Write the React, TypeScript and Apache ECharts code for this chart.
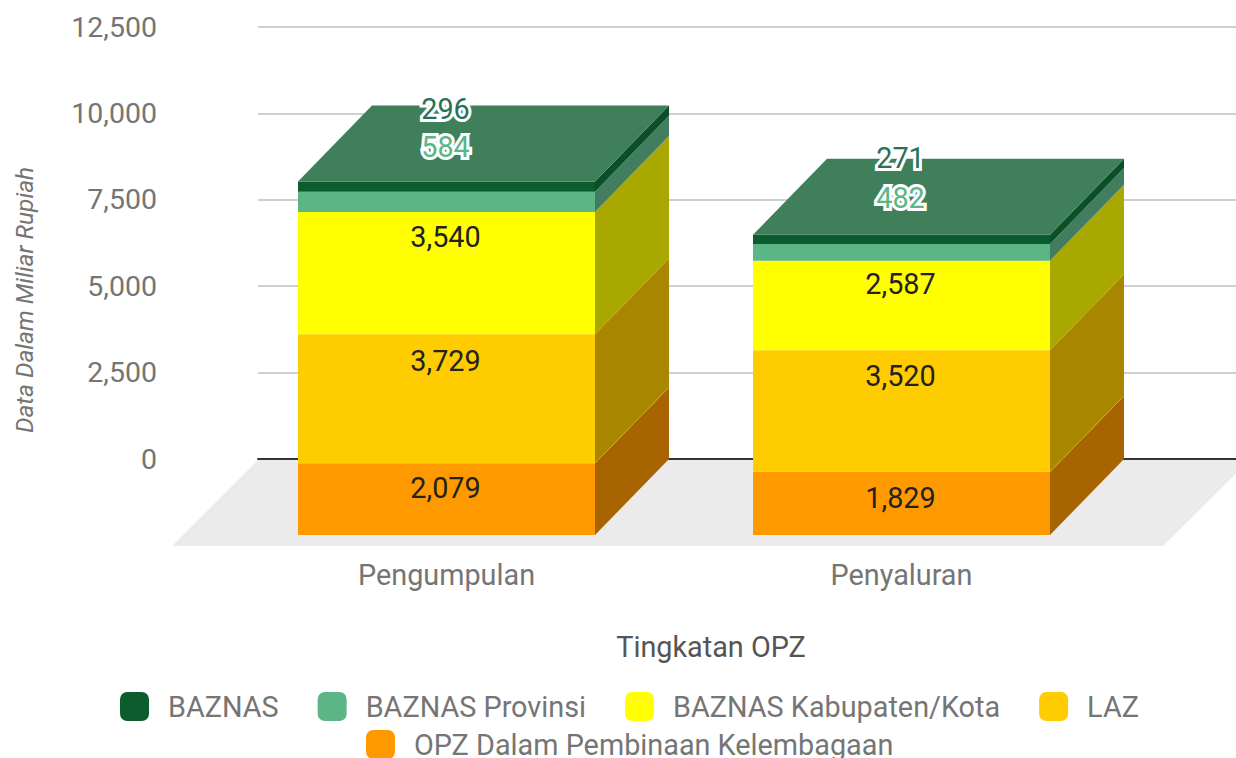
import React, { useEffect, useRef } from "react";
import * as echarts from "echarts";

const categories = ["Pengumpulan", "Penyaluran"];
const yTicks = { min: 0, max: 12500, interval: 2500 };
// stacked from the floor upwards
const seriesNames = ["OPZ Dalam Pembinaan Kelembagaan", "LAZ", "BAZNAS Kabupaten/Kota", "BAZNAS Provinsi", "BAZNAS"];
const opzValues = [2079, 1829];
const lazValues = [3729, 3520];
const kabKotaValues = [3540, 2587];
const provinsiValues = [584, 482];
const baznasValues = [296, 271];
const seriesValues = [opzValues, lazValues, kabKotaValues, provinsiValues, baznasValues];
const legendRowOne = ["BAZNAS", "BAZNAS Provinsi", "BAZNAS Kabupaten/Kota", "LAZ"];
const legendRowTwo = ["OPZ Dalam Pembinaan Kelembagaan"];

// styles and layout
const frontColors = ["#ff9900", "#ffcc00", "#ffff00", "#5bb585", "#0d5c2e"];
const sideColors = ["#a86400", "#a88600", "#a8a800", "#437d60", "#0a4f26"];
const topColor = "#3f7f5a";
const labelFills = ["#222222", "#222222", "#222222", "#5bb585", "#2a7056"];
const labelHalo = [false, false, false, true, true];
// how far each segment's label sits above the middle of its front face, px
const labelLift = [
  [11, 38, 36, 55, 78],
  [5, 35, 21, 54, 81],
];
const DEPTH_X = 74;
const DEPTH_Y = 76;
const BAR_FRACTION = 297 / 455;
const FONT = "Roboto";
const GREY = "#757575";
const TEXT_SIZE = 28.8;

function makeSeries(stackIndex: number) {
  const values = seriesValues[stackIndex];
  const data = values.map((v, i) => {
    let base = 0;
    for (let s = 0; s < stackIndex; s++) base += seriesValues[s][i];
    return [i, base, base + v, v];
  });
  return {
    type: "custom",
    name: seriesNames[stackIndex],
    xAxisIndex: 1,
    yAxisIndex: 1,
    z: 3,
    itemStyle: { color: frontColors[stackIndex] },
    encode: { x: 0, y: [1, 2] },
    data,
    renderItem: (params: any, api: any) => {
      const idx = api.value(0);
      const p0 = api.coord([idx, api.value(1)]);
      const p1 = api.coord([idx, api.value(2)]);
      const w = api.size([1, 0])[0] * BAR_FRACTION;
      const xl = p0[0] - w / 2;
      const xr = p0[0] + w / 2;
      const yb = p0[1];
      const yt = p1[1];
      const children: any[] = [
        {
          type: "polygon",
          shape: {
            points: [
              [xr, yb],
              [xr + DEPTH_X, yb - DEPTH_Y],
              [xr + DEPTH_X, yt - DEPTH_Y],
              [xr, yt],
            ],
          },
          style: { fill: sideColors[stackIndex] },
        },
        {
          type: "rect",
          shape: { x: xl, y: yt, width: w, height: yb - yt },
          style: { fill: frontColors[stackIndex] },
        },
      ];
      if (stackIndex === 1 || stackIndex === 2) {
        children.push({
          type: "line",
          shape: { x1: xr, y1: yb, x2: xr + DEPTH_X, y2: yb - DEPTH_Y },
          style: { stroke: "#c9ad1a", lineWidth: 1 },
        });
      }
      if (stackIndex === seriesValues.length - 1) {
        children.push({
          type: "polygon",
          shape: {
            points: [
              [xl, yt],
              [xr, yt],
              [xr + DEPTH_X, yt - DEPTH_Y],
              [xl + DEPTH_X, yt - DEPTH_Y],
            ],
          },
          style: { fill: topColor },
        });
      }
      children.push({
        type: "text",
        z2: 20,
        style: {
          text: echarts.format.addCommas(api.value(3)),
          x: p0[0] - 1,
          y: (yb + yt) / 2 - labelLift[idx][stackIndex],
          align: "center",
          verticalAlign: "middle",
          font: `${TEXT_SIZE}px ${FONT}`,
          fill: labelFills[stackIndex],
          ...(labelHalo[stackIndex] ? { stroke: "#ffffff", lineWidth: 6, strokeFirst: true } : {}),
        },
      });
      return { type: "group", children };
    },
  };
}

export default function App() {
  const ref = useRef<HTMLDivElement>(null);
  useEffect(() => {
    document.body.style.margin = "0";
    const chart = echarts.init(ref.current!, undefined, { renderer: "svg" });
    const legendBase = {
      orient: "horizontal",
      icon: "roundRect",
      itemWidth: 29,
      itemHeight: 29,
      itemGap: 39,
      padding: 0,
      textStyle: { fontFamily: FONT, fontSize: TEXT_SIZE, lineHeight: 24, color: GREY, padding: [0, 0, 0, 14] },
    };
    chart.setOption({
      animation: false,
      backgroundColor: "#ffffff",
      grid: [
        { left: 258, top: 27, width: 978, height: 432 },
        { left: 219, top: 103, width: 910, height: 432 },
      ],
      xAxis: [
        {
          type: "category",
          gridIndex: 0,
          data: categories,
          axisLine: { show: true, lineStyle: { color: "#333333", width: 2 } },
          axisTick: { show: false },
          axisLabel: { show: false },
        },
        {
          type: "category",
          gridIndex: 1,
          data: categories,
          axisLine: { show: false },
          axisTick: { show: false },
          axisLabel: { margin: 25, fontFamily: FONT, fontSize: TEXT_SIZE, color: GREY },
        },
      ],
      yAxis: [
        {
          type: "value",
          gridIndex: 0,
          ...yTicks,
          axisLine: { show: false },
          axisTick: { show: false },
          axisLabel: {
            margin: 101,
            fontFamily: FONT,
            fontSize: 28.5,
            color: GREY,
            formatter: (v: number) => echarts.format.addCommas(v),
          },
          splitLine: { show: true, lineStyle: { color: "#cfcfcf", width: 2 } },
        },
        {
          type: "value",
          gridIndex: 1,
          ...yTicks,
          show: false,
          splitLine: { show: false },
        },
      ],
      legend: [
        { ...legendBase, left: 120, top: 692, data: legendRowOne },
        { ...legendBase, left: 366, top: 730, data: legendRowTwo },
      ],
      graphic: [
        {
          type: "polygon",
          z: 0,
          shape: {
            points: [
              [258, 460],
              [1250, 460],
              [1163, 546],
              [172, 546],
            ],
          },
          style: { fill: "#ebebeb" },
        },
        {
          type: "text",
          x: 24,
          y: 300,
          rotation: Math.PI / 2,
          style: {
            text: "Data Dalam Miliar Rupiah",
            align: "center",
            verticalAlign: "middle",
            font: `italic 24.4px ${FONT}`,
            fill: GREY,
          },
        },
        {
          type: "text",
          x: 711,
          y: 647,
          style: {
            text: "Tingkatan OPZ",
            align: "center",
            verticalAlign: "middle",
            font: `${TEXT_SIZE}px ${FONT}`,
            fill: "#555555",
          },
        },
      ],
      series: seriesValues.map((_, i) => makeSeries(i)),
    });
    return () => chart.dispose();
  }, []);
  return <div ref={ref} style={{ width: 1236, height: 758 }} />;
}
